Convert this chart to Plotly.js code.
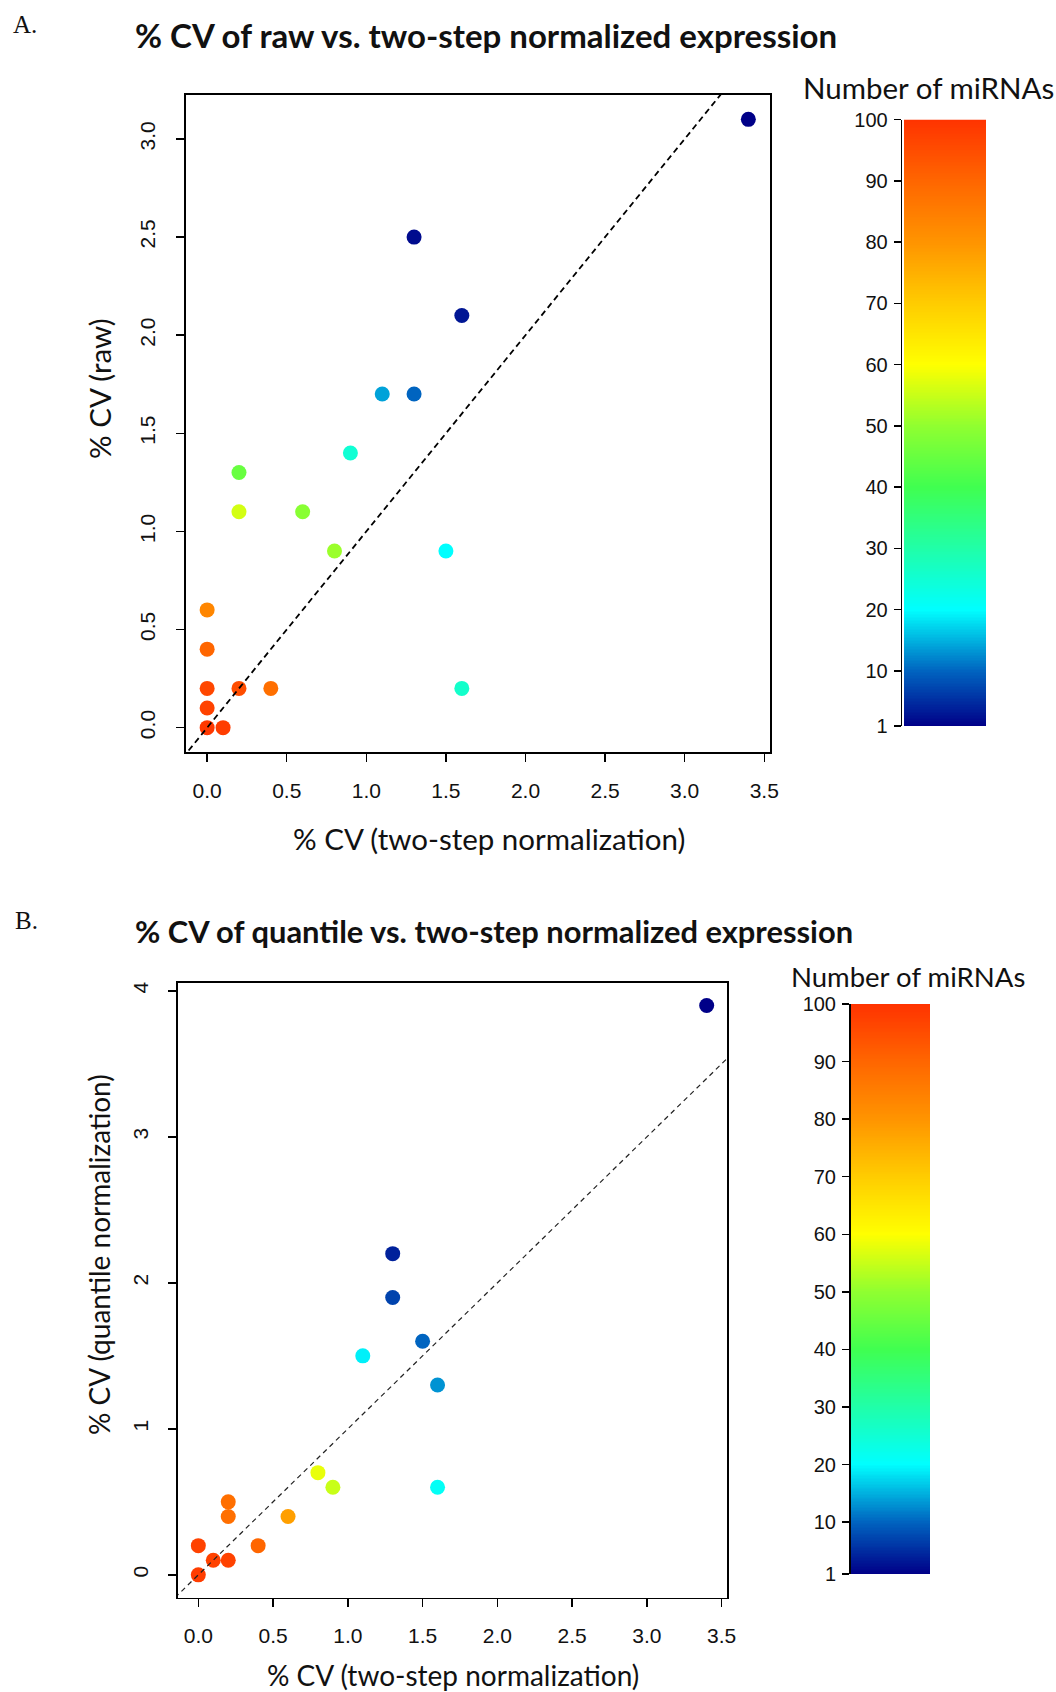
<!DOCTYPE html>
<html><head><meta charset="utf-8">
<script src="https://cdn.plot.ly/plotly-3.0.1.min.js"></script>
<style>html,body{margin:0;padding:0;background:#fff}#chart{width:1056px;height:1692px}</style>
</head><body><div id="chart"></div>
<script>
// Panel A: % CV raw vs two-step
const rawX = [3.4, 1.3, 1.6, 1.1, 1.3, 0.9, 0.2, 0.2, 0.6, 0.8, 1.5, 0.0, 0.0, 0.0, 0.2, 0.4, 1.6, 0.0, 0.0, 0.1];
const rawY = [3.1, 2.5, 2.1, 1.7, 1.7, 1.4, 1.3, 1.1, 1.1, 0.9, 0.9, 0.6, 0.4, 0.2, 0.2, 0.2, 0.2, 0.1, 0.0, 0.0];
const rawN = [1, 2, 3, 14, 10, 25, 45, 56, 49, 51, 20, 83, 90, 96, 95, 88, 26, 97, 99, 98];
// Panel B: % CV quantile vs two-step
const quantX = [3.4, 1.3, 1.3, 1.5, 1.1, 1.6, 0.8, 0.9, 1.6, 0.2, 0.2, 0.6, 0.0, 0.4, 0.1, 0.2, 0.0];
const quantY = [3.9, 2.2, 1.9, 1.6, 1.5, 1.3, 0.7, 0.6, 0.6, 0.5, 0.4, 0.4, 0.2, 0.2, 0.1, 0.1, 0.0];
const quantN = [1, 4, 7, 10, 19, 13, 58, 55, 21, 88, 88, 78, 97, 90, 97, 97, 98];

const xTickVals = [0, 0.5, 1, 1.5, 2, 2.5, 3, 3.5];
const xTickText = ['0.0', '0.5', '1.0', '1.5', '2.0', '2.5', '3.0', '3.5'];
const yTickValsA = [0, 0.5, 1, 1.5, 2, 2.5, 3];
const yTickTextA = ['0.0', '0.5', '1.0', '1.5', '2.0', '2.5', '3.0'];
const yTickValsB = [0, 1, 2, 3, 4];
const yTickTextB = ['0', '1', '2', '3', '4'];
const legendTicks = [1, 10, 20, 30, 40, 50, 60, 70, 80, 90, 100];

const cmin = 1, cmax = 100;
const colorStops = [
  [1, '#000088'], [10, '#0064c0'], [20, '#00ffff'], [30, '#20ffa8'], [40, '#40ff50'],
  [50, '#90ff30'], [60, '#ffff00'], [70, '#ffcc00'], [80, '#ff9400'], [90, '#ff6600'], [100, '#ff3300']
];
const colorscale = colorStops.map(s => [(s[0] - cmin) / (cmax - cmin), s[1]]);

const levels = [];
for (let v = cmin; v <= cmax; v += 0.25) levels.push(v);

const xRange = [-0.136, 3.536];
const yRangeA = [-0.124, 3.224];
const yRangeB = [-0.156, 4.056];
const diag = [Math.min(xRange[0], yRangeB[0]), Math.max(xRange[1], yRangeB[1])];

const W = 1056, H = 1692;
const px = v => v / W;
const py = v => 1 - v / H;

const tickFont = {family: 'Liberation Sans, Arial, sans-serif', size: 21, color: '#111'};
const lato = size => ({family: 'Lato, sans-serif', size, color: '#111'});
const latoBold = size => ({family: 'Lato, sans-serif', size, color: '#111', weight: 'bold'});

function scatterAxisX(domain, anchor, standoff) {
  return {domain, anchor, range: xRange, tickvals: xTickVals, ticktext: xTickText,
    ticks: 'outside', ticklen: 8, tickwidth: 1.5, tickcolor: '#000',
    showline: true, mirror: true, linecolor: '#000', linewidth: 1.8,
    showgrid: false, zeroline: false, tickfont: tickFont, ticklabelstandoff: standoff, fixedrange: true};
}
function scatterAxisY(domain, anchor, range, tv, tt) {
  return {domain, anchor, range, tickvals: tv, ticktext: tt, tickangle: -90,
    ticks: 'outside', ticklen: 8, tickwidth: 1.5, tickcolor: '#000',
    showline: true, mirror: true, linecolor: '#000', linewidth: 1.8,
    showgrid: false, zeroline: false, tickfont: tickFont, ticklabelstandoff: 12, fixedrange: true};
}
function barAxisX(domain, anchor) {
  return {domain, anchor, range: [-0.5, 0.5], visible: false, fixedrange: true};
}
function barAxisY(domain, pos) {
  return {domain, anchor: 'free', position: pos, range: [cmin, cmax], tickvals: legendTicks,
    ticks: 'outside', ticklen: 7, tickwidth: 1.5, tickcolor: '#000',
    showline: true, linecolor: '#000', linewidth: 1.5, showgrid: false, zeroline: false,
    tickfont: {family: 'Liberation Sans, Arial, sans-serif', size: 20, color: '#111'},
    ticklabelstandoff: 2, fixedrange: true};
}

const traces = [
  {type: 'scatter', mode: 'markers', x: rawX, y: rawY, xaxis: 'x', yaxis: 'y',
   marker: {color: rawN, colorscale, cmin, cmax, size: 15, line: {width: 0}}},
  {type: 'scatter', mode: 'lines', x: diag, y: diag, xaxis: 'x', yaxis: 'y',
   line: {color: '#000', width: 1.8, dash: '6px,4px'}},
  {type: 'scatter', mode: 'markers', x: quantX, y: quantY, xaxis: 'x2', yaxis: 'y2',
   marker: {color: quantN, colorscale, cmin, cmax, size: 15, line: {width: 0}}},
  {type: 'scatter', mode: 'lines', x: diag, y: diag, xaxis: 'x2', yaxis: 'y2',
   line: {color: '#222', width: 1.2, dash: '5px,4px'}},
  {type: 'heatmap', x: [0], y: levels, z: levels.map(v => [v]), xaxis: 'x3', yaxis: 'y3',
   colorscale, zmin: cmin, zmax: cmax, showscale: false, hoverinfo: 'skip'},
  {type: 'heatmap', x: [0], y: levels, z: levels.map(v => [v]), xaxis: 'x4', yaxis: 'y4',
   colorscale, zmin: cmin, zmax: cmax, showscale: false, hoverinfo: 'skip'}
];

function ann(text, x, y, font, extra) {
  return Object.assign({text, x: px(x), y: py(y), xref: 'paper', yref: 'paper',
    xanchor: 'center', yanchor: 'middle', showarrow: false, font}, extra || {});
}

const layout = {
  width: W, height: H, margin: {l: 0, r: 0, t: 0, b: 0},
  paper_bgcolor: '#fff', plot_bgcolor: '#fff', showlegend: false,
  xaxis: scatterAxisX([px(185.5), px(770)], 'y', 11),
  yaxis: scatterAxisY([py(752), py(95)], 'x', yRangeA, yTickValsA, yTickTextA),
  xaxis2: scatterAxisX([px(178), px(727)], 'y2', 10),
  yaxis2: scatterAxisY([py(1597.6), py(982.7)], 'x2', yRangeB, yTickValsB, yTickTextB),
  xaxis3: barAxisX([px(904), px(986)], 'y3'),
  yaxis3: barAxisY([py(726), py(119.7)], px(900.7)),
  xaxis4: barAxisX([px(851), px(930)], 'y4'),
  yaxis4: barAxisY([py(1574), py(1004)], px(849)),
  annotations: [
    ann('A.', 11, 24, {family: 'Liberation Serif, serif', size: 25, color: '#111'}, {xanchor: 'left'}),
    ann('% CV of raw vs. two-step normalized expression', 486, 35, latoBold(33)),
    ann('Number of miRNAs', 928, 88, lato(29.5)),
    ann('% CV (two-step normalization)', 489, 838, lato(29.5)),
    ann('% CV (raw)', 99, 389, lato(29.5), {textangle: -90}),
    ann('B.', 13, 920, {family: 'Liberation Serif, serif', size: 25, color: '#111'}, {xanchor: 'left'}),
    ann('% CV of quantile vs. two-step normalized expression', 494, 931, latoBold(30.9)),
    ann('Number of miRNAs', 908, 976, lato(27.5)),
    ann('% CV (two-step normalization)', 452.5, 1675, lato(28)),
    ann('% CV (quantile normalization)', 99, 1255, lato(28), {textangle: -90})
  ]
};

Plotly.newPlot('chart', traces, layout, {displayModeBar: false, staticPlot: true});
</script>
</body></html>
